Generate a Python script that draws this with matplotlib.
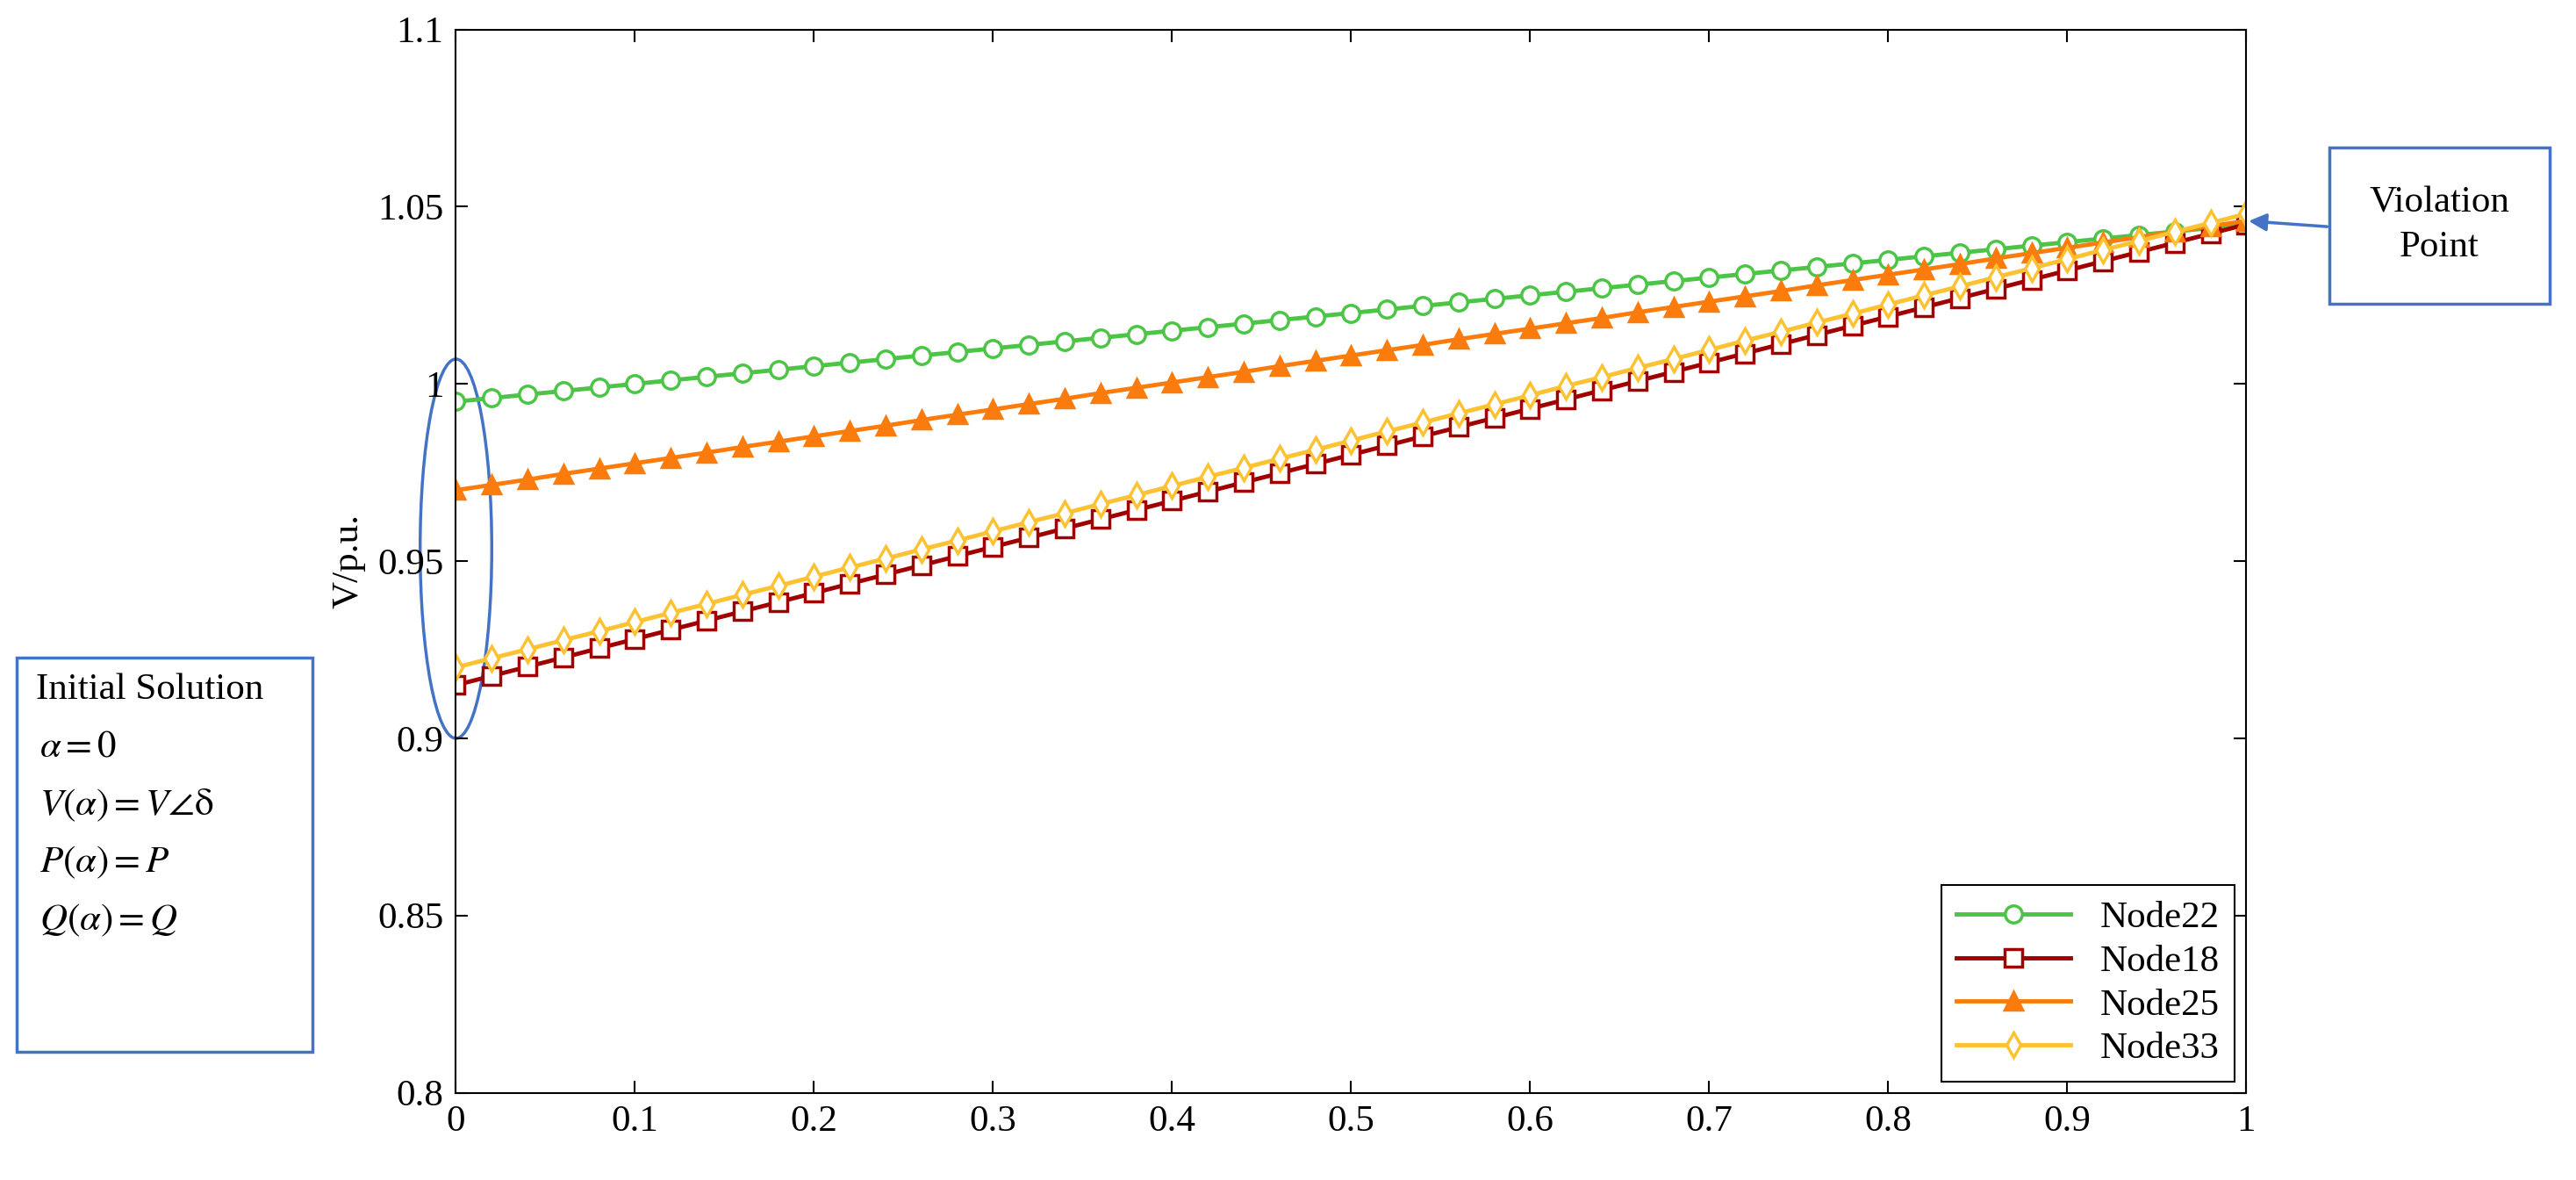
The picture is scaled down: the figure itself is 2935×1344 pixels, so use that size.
import matplotlib
matplotlib.use("Agg")
import matplotlib.pyplot as plt
from matplotlib.patches import Ellipse, Rectangle

plt.rcParams['font.family'] = ['Liberation Serif', 'DejaVu Serif']
plt.rcParams['mathtext.fontset'] = 'stix'

alpha = [i/50 for i in range(51)]
node22 = [0.995,0.996,0.997,0.998,0.999,1.000,1.001,1.002,1.003,1.004,1.005,1.006,1.007,1.008,1.009,1.010,1.011,1.012,1.013,1.014,1.015,1.016,1.017,1.018,1.019,1.020,1.021,1.022,1.023,1.024,1.025,1.026,1.027,1.028,1.029,1.030,1.031,1.032,1.033,1.034,1.035,1.036,1.037,1.038,1.039,1.040,1.041,1.042,1.043,1.044,1.045]
node18 = [0.915,0.9176,0.9202,0.9228,0.9254,0.928,0.9306,0.9332,0.9358,0.9384,0.941,0.9436,0.9462,0.9488,0.9514,0.954,0.9566,0.9592,0.9618,0.9644,0.967,0.9696,0.9722,0.9748,0.9774,0.98,0.9826,0.9852,0.9878,0.9904,0.993,0.9956,0.9982,1.0008,1.0034,1.006,1.0086,1.0112,1.0138,1.0164,1.019,1.0216,1.0242,1.0268,1.0294,1.032,1.0346,1.0372,1.0398,1.0424,1.045]
node25 = [0.97,0.9715,0.973,0.9746,0.9761,0.9776,0.9791,0.9806,0.9822,0.9837,0.9852,0.9867,0.9882,0.9898,0.9913,0.9928,0.9943,0.9958,0.9974,0.9989,1.0004,1.0019,1.0034,1.005,1.0065,1.008,1.0095,1.011,1.0126,1.0141,1.0156,1.0171,1.0186,1.0202,1.0217,1.0232,1.0247,1.0262,1.0278,1.0293,1.0308,1.0323,1.0338,1.0354,1.0369,1.0384,1.0399,1.0414,1.043,1.0445,1.046]
node33 = [0.92,0.9226,0.9251,0.9277,0.9302,0.9328,0.9354,0.9379,0.9405,0.943,0.9456,0.9482,0.9507,0.9533,0.9558,0.9584,0.961,0.9635,0.9661,0.9686,0.9712,0.9738,0.9763,0.9789,0.9814,0.984,0.9866,0.9891,0.9917,0.9942,0.9968,0.9994,1.0019,1.0045,1.007,1.0096,1.0122,1.0147,1.0173,1.0198,1.0224,1.025,1.0275,1.0301,1.0326,1.0352,1.0378,1.0403,1.0429,1.0454,1.048]

fig = plt.figure(figsize=(29.35, 13.44), dpi=100)
ax = fig.add_axes([0.177, 0.074, 0.695, 0.901])

kw = dict(lw=3.5, markersize=14, markeredgewidth=2.5)
ax.plot(alpha, node22, '-o', color='#4cc446', mfc='white', label='Node22', **kw)
ax.plot(alpha, node18, '-s', color='#a00000', mfc='white', label='Node18', **kw)
ax.plot(alpha, node25, '-^', color='#fb7c0c', mfc='#fb7c0c', label='Node25', **kw)
ax.plot(alpha, node33, '-d', color='#fcc232', mfc='white', label='Node33', **kw)

ax.set_xlim(0, 1)
ax.set_ylim(0.8, 1.1)
ax.set_xticks([0,0.1,0.2,0.3,0.4,0.5,0.6,0.7,0.8,0.9,1])
ax.set_xticklabels(['0','0.1','0.2','0.3','0.4','0.5','0.6','0.7','0.8','0.9','1'])
ax.set_yticks([0.8,0.85,0.9,0.95,1.0,1.05,1.1])
ax.set_yticklabels(['0.8','0.85','0.9','0.95','1','1.05','1.1'])
ax.tick_params(labelsize=31, direction='in', length=10, width=1.5, top=True, right=True, pad=10)
for s in ax.spines.values():
    s.set_linewidth(1.5)
ax.set_ylabel('V/p.u.', fontsize=31, labelpad=10)

leg = ax.legend(loc='lower right', fontsize=31, fancybox=False, edgecolor='black',
                framealpha=1, handlelength=3, borderaxespad=0.3, labelspacing=0.25)
leg.get_frame().set_linewidth(1.5)

ax.add_patch(Ellipse((0, 0.9535), 0.04, 0.107, fill=False, edgecolor='#4472c4',
                     lw=2.5, clip_on=False))

# Initial solution box
fig.add_artist(Rectangle((10/1568, 1-640/718), 180/1568, 240/718, transform=fig.transFigure,
                         fill=False, edgecolor='#4472c4', lw=2.5))
lines = ['Initial Solution', r'$\alpha = 0$', r'$V(\alpha) = V\angle\mathrm{\delta}$',
         r'$P(\alpha) = P$', r'$Q(\alpha) = Q$']
fig.text(22/1568, 1-420/718, lines[0], fontsize=31, va='center')
for k, t in enumerate(lines[1:]):
    fig.text(24/1568, 1-(455+35*k)/718, t, fontsize=31, va='center')
ax.annotate('', xy=(-0.02, 0.917), xycoords='data',
            xytext=(190/1568, 1-495/718), textcoords='figure fraction',
            arrowprops=dict(arrowstyle='-|>', color='#4472c4', lw=2.5, mutation_scale=30))

# Violation point box
fig.add_artist(Rectangle((1418/1568, 1-185/718), 134/1568, 95/718, transform=fig.transFigure,
                         fill=False, edgecolor='#4472c4', lw=2.5))
fig.text(1485/1568, 1-137/718, 'Violation\nPoint', fontsize=31, ha='center', va='center',
         linespacing=1.4)
ax.annotate('', xy=(1.0, 1.046), xycoords='data',
            xytext=(1418/1568, 1-138/718), textcoords='figure fraction',
            arrowprops=dict(arrowstyle='-|>', color='#4472c4', lw=2.5, mutation_scale=30))

fig.savefig('out.png', dpi=100)
